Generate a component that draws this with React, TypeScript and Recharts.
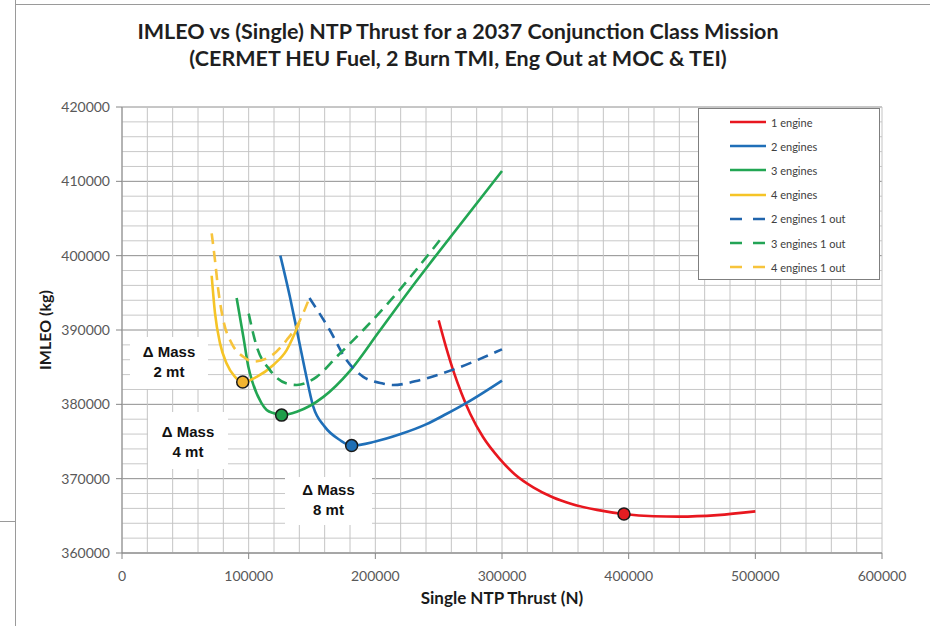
import React from "react";
import {
  ComposedChart,
  Line,
  Scatter,
  XAxis,
  YAxis,
  CartesianGrid,
  Legend,
} from "recharts";

// axis ticks (labelled) and grid ticks
const xTicks = [0, 100000, 200000, 300000, 400000, 500000, 600000];
const yTicks = [360000, 370000, 380000, 390000, 400000, 410000, 420000];
const xGridTicks = [
  0, 20000, 40000, 60000, 80000, 100000, 120000, 140000, 160000, 180000, 200000,
  220000, 240000, 260000, 280000, 300000, 320000, 340000, 360000, 380000, 400000,
  420000, 440000, 460000, 480000, 500000, 520000, 540000, 560000, 580000, 600000,
];
const yGridTicks = [
  360000, 362000, 364000, 366000, 368000, 370000, 372000, 374000, 376000, 378000,
  380000, 382000, 384000, 386000, 388000, 390000, 392000, 394000, 396000, 398000,
  400000, 402000, 404000, 406000, 408000, 410000, 412000, 414000, 416000, 418000,
  420000,
];

// 1 engine
const oneThrust = [250000, 256000, 262000, 268000, 275000, 285000, 298000, 310000, 325000, 340000, 355000, 375000, 396000, 420000, 440000, 470000, 500000];
const oneImleo = [391300, 387600, 384300, 381500, 378700, 375600, 372700, 370600, 368800, 367500, 366600, 365800, 365250, 364950, 364900, 365100, 365600];

// 2 engines
const twoThrust = [125000, 132500, 138000, 144500, 151000, 160000, 172000, 181300, 200000, 220000, 240000, 256000, 272000, 300000];
const twoImleo = [400000, 394500, 390000, 384600, 379700, 377000, 375200, 374450, 375000, 376000, 377300, 378700, 380200, 383200];

// 3 engines
const threeThrust = [90500, 95800, 99700, 103000, 110000, 114200, 120000, 126000, 138000, 159000, 180000, 203000, 232000, 246000, 300000];
const threeImleo = [394300, 389100, 385100, 383000, 380200, 379240, 378800, 378550, 379000, 381000, 384500, 389800, 396500, 399600, 411400];

// 4 engines
const fourThrust = [70800, 73400, 77400, 82600, 89200, 95300, 106300, 119500, 130000, 140000];
const fourImleo = [397300, 392300, 388200, 385500, 383700, 383000, 383700, 385300, 387300, 391000];

// 2 engines 1 out
const twoOutThrust = [148000, 164000, 177000, 190500, 206000, 214000, 235000, 262000, 296000, 300000];
const twoOutImleo = [394300, 390000, 386000, 383700, 382800, 382600, 383250, 384700, 387100, 387400];

// 3 engines 1 out
const threeOutThrust = [100000, 106300, 116800, 130000, 138000, 153700, 169500, 190500, 209000, 251000];
const threeOutImleo = [392200, 387800, 384600, 382800, 382600, 383700, 386400, 390000, 393400, 402100];

// 4 engines 1 out
const fourOutThrust = [70800, 73400, 76000, 80000, 86600, 95800, 103700, 116800, 130000, 140500, 147000];
const fourOutImleo = [403000, 399400, 395400, 391300, 388200, 386400, 385750, 386400, 388650, 391300, 393900];

// optimum points (4, 3, 2, 1 engines)
const optThrust = [95300, 126000, 181300, 396300];
const optImleo = [383000, 378550, 374450, 365250];
const optFill = ["#f2b431", "#1f9e4a", "#1f6fb5", "#e41d22"];

const zip = (xs: number[], ys: number[]) => xs.map((x, i) => ({ x, y: ys[i] }));

const series = [
  { name: "1 engine", data: zip(oneThrust, oneImleo), color: "#e8171f", dash: undefined },
  { name: "2 engines", data: zip(twoThrust, twoImleo), color: "#1f6fb8", dash: undefined },
  { name: "3 engines", data: zip(threeThrust, threeImleo), color: "#22a653", dash: undefined },
  { name: "4 engines", data: zip(fourThrust, fourImleo), color: "#f5c426", dash: undefined },
  { name: "2 engines 1 out", data: zip(twoOutThrust, twoOutImleo), color: "#2064ac", dash: "11 7" },
  { name: "3 engines 1 out", data: zip(threeOutThrust, threeOutImleo), color: "#23a456", dash: "11 7" },
  { name: "4 engines 1 out", data: zip(fourOutThrust, fourOutImleo), color: "#f7c43c", dash: "11 7" },
];

const optima = optThrust.map((x, i) => ({ x, y: optImleo[i], fill: optFill[i] }));

const FONT = "Lato, 'Open Sans', sans-serif";

const YTick = (props: any) => {
  const { x, y, payload } = props;
  if (!yTicks.includes(payload.value)) return <g />;
  return (
    <g>
      <line x1={x + 6} x2={x + 12} y1={y} y2={y} stroke="#868686" />
      <text x={x} y={y} dy="0.35em" textAnchor="end" fill="#595959" fontSize={14} fontFamily={FONT}>
        {payload.value}
      </text>
    </g>
  );
};

const XTick = (props: any) => {
  const { x, y, payload } = props;
  if (!xTicks.includes(payload.value)) return <g />;
  return (
    <g>
      <line x1={x} x2={x} y1={y - 18} y2={y - 12} stroke="#868686" />
      <text x={x} y={y} dy="0.71em" textAnchor="middle" fill="#595959" fontSize={14} fontFamily={FONT}>
        {payload.value}
      </text>
    </g>
  );
};

const hLine = (p: any) => (
  <line
    key={p.key}
    x1={p.x1}
    x2={p.x2}
    y1={p.y1}
    y2={p.y2}
    stroke={p.index % 5 === 0 ? "#8e8e8e" : "#c8c8c8"}
    strokeWidth={1}
  />
);

const vLine = (p: any) => (
  <line key={p.key} x1={p.x1} x2={p.x2} y1={p.y1} y2={p.y2} stroke="#c4c4c4" strokeWidth={1} />
);

const OptDot = (props: any) => {
  const { cx, cy, payload } = props;
  return <circle cx={cx} cy={cy} r={6} fill={payload.fill} stroke="#1a1a1a" strokeWidth={1.5} />;
};

const LegendBox = () => (
  <div
    style={{
      width: 180,
      height: 169,
      border: "1px solid #7f7f7f",
      background: "#fff",
      paddingTop: 1,
      boxSizing: "content-box",
    }}
  >
    {series.map((s) => (
      <div key={s.name} style={{ height: 24.2, display: "flex", alignItems: "center" }}>
        <svg width={36} height={6} style={{ marginLeft: 31, marginRight: 5 }}>
          <line x1={0} x2={36} y1={3} y2={3} stroke={s.color} strokeWidth={2.5} strokeDasharray={s.dash ? "12 11" : undefined} />
        </svg>
        <span style={{ fontFamily: FONT, fontSize: 11, color: "#404040" }}>{s.name}</span>
      </div>
    ))}
  </div>
);

const massBox = (left: number, top: number, width: number, height: number, pad: number, l2: string) => (
  <div
    style={{
      position: "absolute",
      left,
      top,
      width,
      height,
      background: "#fff",
      paddingTop: pad,
      boxSizing: "border-box",
      textAlign: "center",
      fontFamily: "'Liberation Sans', Arial, sans-serif",
      fontWeight: 700,
      fontSize: 15,
      lineHeight: "20px",
      color: "#111",
    }}
  >
    <div>Δ Mass</div>
    <div>{l2}</div>
  </div>
);

export default function App() {
  return (
    <div style={{ position: "absolute", left: 0, top: 0, width: 930, height: 626, background: "#fff", overflow: "hidden" }}>
      <div style={{ position: "absolute", left: 15, top: 0, width: 1, height: 626, background: "#9a9a9a" }} />
      <div style={{ position: "absolute", left: 0, top: 521, width: 15, height: 1, background: "#9a9a9a" }} />
      <div style={{ position: "absolute", left: 15, top: 4, width: 915, height: 1, background: "#9a9a9a" }} />

      <ComposedChart
        width={930}
        height={626}
        margin={{ top: 107, right: 48, left: 62, bottom: 28 }}
        style={{ position: "absolute", left: 0, top: 0 }}
      >
        <CartesianGrid horizontal={hLine} vertical={vLine} />
        <XAxis
          dataKey="x"
          type="number"
          domain={[0, 600000]}
          ticks={xGridTicks}
          interval={0}
          allowDataOverflow
          height={45}
          tickSize={6}
          tickMargin={12}
          tickLine={false}
          axisLine={{ stroke: "#868686" }}
          tick={<XTick />}
          label={{
            content: ({ viewBox }: any) => (
              <text
                x={viewBox.x + viewBox.width / 2}
                y={viewBox.y + 51}
                textAnchor="middle"
                fontFamily={FONT}
                fontWeight={700}
                fontSize={17}
                fill="#1a1a1a"
              >
                Single NTP Thrust (N)
              </text>
            ),
          }}
        />
        <YAxis
          type="number"
          domain={[360000, 420000]}
          ticks={yGridTicks}
          interval={0}
          allowDataOverflow
          width={60}
          tickSize={6}
          tickMargin={6}
          tickLine={false}
          axisLine={{ stroke: "#868686" }}
          tick={<YTick />}
          label={{
            content: ({ viewBox }: any) => {
              const cx = viewBox.x - 18;
              const cy = viewBox.y + viewBox.height / 2;
              return (
                <text
                  x={cx}
                  y={cy}
                  transform={`rotate(-90 ${cx} ${cy})`}
                  textAnchor="middle"
                  dominantBaseline="central"
                  fontFamily={FONT}
                  fontWeight={700}
                  fontSize={16}
                  fill="#1a1a1a"
                >
                  IMLEO (kg)
                </text>
              );
            },
          }}
        />
        {series.map((s) => (
          <Line
            key={s.name}
            name={s.name}
            data={s.data}
            dataKey="y"
            type="monotone"
            stroke={s.color}
            strokeWidth={2.6}
            strokeDasharray={s.dash}
            dot={false}
            activeDot={false}
            isAnimationActive={false}
          />
        ))}
        <Scatter data={optima} dataKey="y" shape={<OptDot />} legendType="none" isAnimationActive={false} />
        <Legend
          layout="vertical"
          align="center"
          verticalAlign="middle"
          content={<LegendBox />}
          wrapperStyle={{ left: 698, top: 108, width: 182, height: 172 }}
        />
      </ComposedChart>

      {massBox(130, 337, 78, 52, 5, "2 mt")}
      {massBox(148, 412, 80, 57, 10, "4 mt")}
      {massBox(285, 477, 87, 48, 3, "8 mt")}

      <div
        style={{
          position: "absolute",
          left: 0,
          top: 18,
          width: 916,
          textAlign: "center",
          fontFamily: FONT,
          fontWeight: 700,
          fontSize: 21.5,
          lineHeight: "27px",
          color: "#1f1f1f",
        }}
      >
        <div>IMLEO vs (Single) NTP Thrust for a 2037 Conjunction Class Mission</div>
        <div>(CERMET HEU Fuel, 2 Burn TMI, Eng Out at MOC &amp; TEI)</div>
      </div>
    </div>
  );
}
